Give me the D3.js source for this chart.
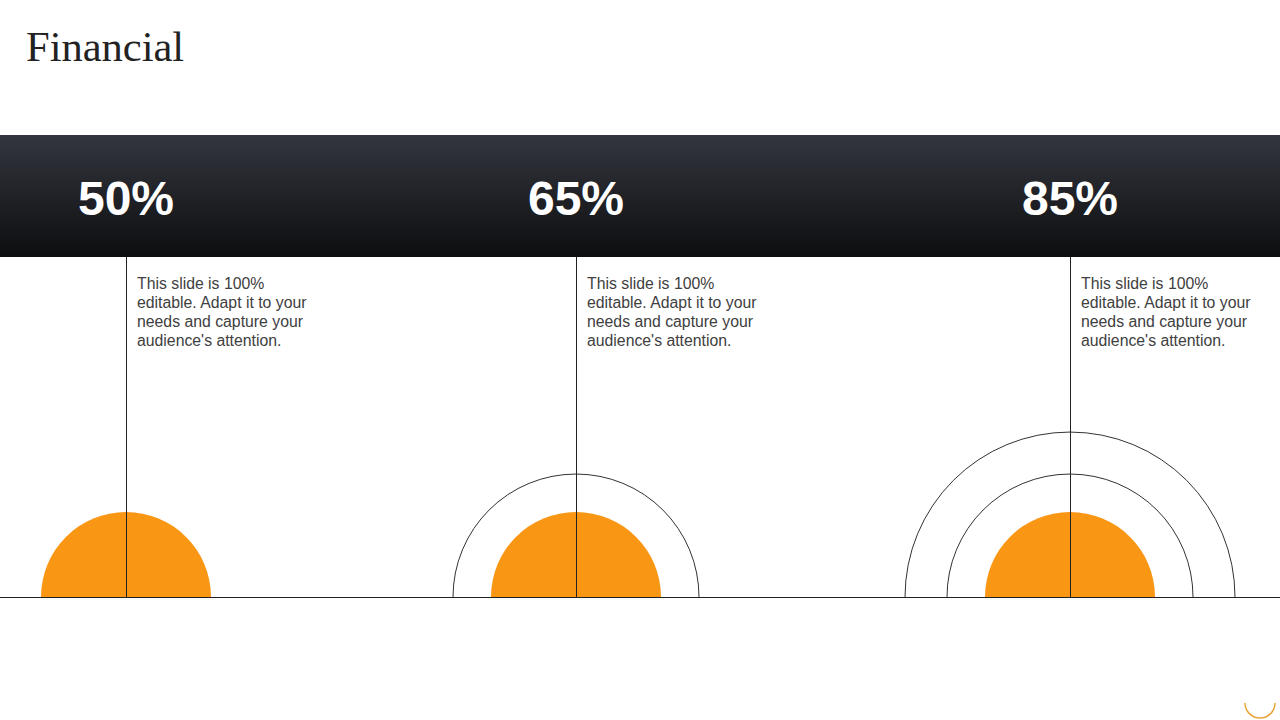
<!DOCTYPE html>
<html>
<head>
<meta charset="utf-8">
<script src="https://cdn.jsdelivr.net/npm/d3@7"></script>
<style>
  html, body { margin: 0; padding: 0; background: #fff; }
  svg { display: block; }
</style>
</head>
<body>
<script>
// ---- data ----
const categories = ["A", "B", "C"];
const values = [50, 65, 85];
const valueLabels = ["50%", "65%", "85%"];
const ringCounts = [0, 1, 2];
const descriptions = [
  ["This slide is 100%", "editable. Adapt it to your", "needs and capture your", "audience's attention."],
  ["This slide is 100%", "editable. Adapt it to your", "needs and capture your", "audience's attention."],
  ["This slide is 100%", "editable. Adapt it to your", "needs and capture your", "audience's attention."]
];
const title = "Financial";

// ---- layout ----
const W = 1280, H = 720;
const bandTop = 135, bandBottom = 257, baseY = 597;
const x = d3.scaleOrdinal().domain(categories).range([126, 576, 1070]);
const ringR = d3.scaleLinear().domain([0, 1, 2]).range([85, 123, 165]);

const svg = d3.select("body").append("svg").attr("width", W).attr("height", H);

const defs = svg.append("defs");
const grad = defs.append("linearGradient").attr("id", "band").attr("x1", 0).attr("y1", 0).attr("x2", 0).attr("y2", 1);
grad.append("stop").attr("offset", "0%").attr("stop-color", "#33363e");
grad.append("stop").attr("offset", "100%").attr("stop-color", "#0d0e10");

svg.append("text").attr("x", 26).attr("y", 61)
  .attr("font-family", "'Liberation Serif', 'Times New Roman', serif")
  .attr("font-size", 42.5).attr("fill", "#222").text(title);

svg.append("rect").attr("x", 0).attr("y", bandTop).attr("width", W).attr("height", bandBottom - bandTop)
  .attr("fill", "url(#band)");

const data = categories.map((c, i) => ({ c, v: values[i], label: valueLabels[i], rings: ringCounts[i], desc: descriptions[i] }));

const arc = d3.arc().startAngle(-Math.PI / 2).endAngle(Math.PI / 2);

const g = svg.selectAll("g.item").data(data).join("g").attr("class", "item");

// orange half discs
g.append("path")
  .attr("transform", d => `translate(${x(d.c)},${baseY})`)
  .attr("d", arc({ innerRadius: 0, outerRadius: ringR(0) }))
  .attr("fill", "#f99614");

// rings
g.each(function (d) {
  const sel = d3.select(this);
  for (let k = 1; k <= d.rings; k++) {
    const r = ringR(k);
    sel.append("path")
      .attr("transform", `translate(${x(d.c)},${baseY})`)
      .attr("d", `M${-r},0 A${r},${r} 0 0 1 ${r},0`)
      .attr("fill", "none").attr("stroke", "#333").attr("stroke-width", 1);
  }
});

// baseline
svg.append("line").attr("x1", 0).attr("x2", W).attr("y1", baseY + 0.5).attr("y2", baseY + 0.5)
  .attr("stroke", "#222").attr("stroke-width", 1);

// vertical lines
g.append("line")
  .attr("x1", d => x(d.c) + 0.5).attr("x2", d => x(d.c) + 0.5)
  .attr("y1", bandBottom).attr("y2", baseY)
  .attr("stroke", "#222").attr("stroke-width", 1);

// percent labels
g.append("text")
  .attr("x", d => x(d.c)).attr("y", 215)
  .attr("text-anchor", "middle")
  .attr("font-family", "'Liberation Sans', Arial, sans-serif")
  .attr("font-weight", "bold").attr("font-size", 48).attr("fill", "#fff")
  .text(d => d.label);

// descriptions
g.append("text")
  .attr("font-family", "'Liberation Sans', Arial, sans-serif")
  .attr("font-size", 15.8).attr("fill", "#404040")
  .selectAll("tspan").data(d => d.desc.map(t => ({ t, x: x(d.c) + 11 })))
  .join("tspan")
  .attr("x", t => t.x).attr("y", (t, i) => 289 + i * 19)
  .text(t => t.t);

// small decorative arc bottom right
svg.append("path")
  .attr("d", "M1245,703 A15,15 0 0 0 1275,703")
  .attr("fill", "none").attr("stroke", "#e9a43a").attr("stroke-width", 1.5);
</script>
</body>
</html>
